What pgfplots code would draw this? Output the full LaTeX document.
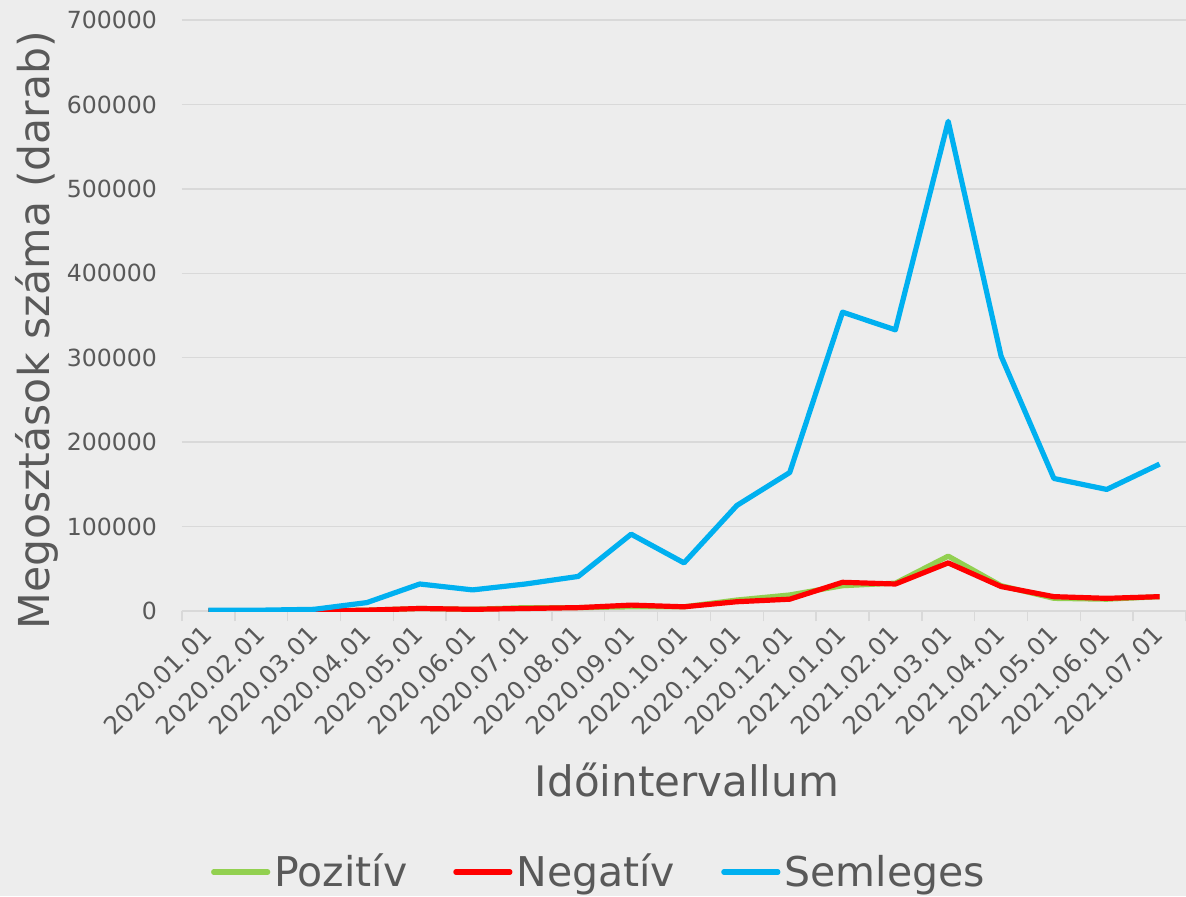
\documentclass[border=0pt]{standalone}
\usepackage{fontspec}
\setmainfont{DejaVu Sans}
\usepackage{pgfplots}
\pgfplotsset{compat=1.18}
\definecolor{bg}{HTML}{EDEDED}
\definecolor{tc}{HTML}{595959}
\definecolor{gridc}{HTML}{D9D9D9}
\definecolor{cpos}{HTML}{92D050}
\definecolor{cneg}{HTML}{FF0000}
\definecolor{csem}{HTML}{00B0F0}
\begin{document}
\begin{tikzpicture}
\fill[bg] (-91pt,-142.5pt) rectangle (502pt,305.5pt);
\begin{axis}[
  at={(0,0)}, anchor=south west, scale only axis,
  width=502pt, height=295.5pt,
  xmin=-0.5, xmax=18.5, ymin=0, ymax=700000,
  axis x line*=bottom, axis y line*=left,
  x axis line style={gridc, line width=0.75pt, -},
  y axis line style={draw=none},
  ytick={0,100000,...,700000},
  ymajorgrids, grid style={gridc, line width=0.75pt},
  scaled y ticks=false,
  yticklabel style={/pgf/number format/fixed, /pgf/number format/1000 sep={}, /pgf/number format/assume math mode=true, font=\fontsize{11.8}{14}\selectfont, text=tc, xshift=-9pt},
  major tick length=0pt,
  xtick={0,...,18},
  xticklabels={2020.01.01,2020.02.01,2020.03.01,2020.04.01,2020.05.01,2020.06.01,2020.07.01,2020.08.01,2020.09.01,2020.10.01,2020.11.01,2020.12.01,2021.01.01,2021.02.01,2021.03.01,2021.04.01,2021.05.01,2021.06.01,2021.07.01},
  xticklabel style={rotate=45, anchor=east, font=\fontsize{12.3}{15}\selectfont, text=tc, xshift=-3.6pt, yshift=-6.4pt},
  extra x ticks={-0.5,0.5,...,18.5},
  extra x tick labels={},
  extra x tick style={major tick length=5pt, tick align=outside, tick style={gridc, line width=0.75pt}},
  xlabel={Időintervallum},
  xlabel style={at={(axis description cs:0.503,0)}, anchor=center, yshift=-84.5pt, font=\fontsize{21}{25}\selectfont, text=tc},
  ylabel={Megosztások száma (darab)},
  ylabel style={at={(axis description cs:0,0.475)}, anchor=center, yshift=72.5pt, font=\fontsize{21.3}{25}\selectfont, text=tc},
  legend columns=3,
  legend style={at={(axis description cs:0.4163,0)}, anchor=center, yshift=-130.5pt, draw=none, fill=none, font=\fontsize{20.5}{24}\selectfont, text=tc, /tikz/every even column/.append style={column sep=21pt}, inner sep=0pt},
  legend image code/.code={\draw[#1, line cap=round] (0pt,0pt) -- (27pt,0pt);},
  every axis plot/.append style={line width=2.6pt, line join=round},
]
\addplot[cpos] coordinates {(0,0)(1,0)(2,0)(3,1000)(4,3000)(5,2000)(6,4000)(7,4000)(8,5000)(9,5000)(10,13000)(11,19000)(12,30000)(13,33000)(14,65000)(15,30000)(16,15000)(17,14000)(18,17000)};
\addlegendentry{Pozitív}
\addplot[cneg] coordinates {(0,0)(1,0)(2,0)(3,1000)(4,3000)(5,2000)(6,3000)(7,4000)(8,7000)(9,5000)(10,11000)(11,14000)(12,34000)(13,32000)(14,57000)(15,29000)(16,17000)(17,15000)(18,17000)};
\addlegendentry{Negatív}
\addplot[csem] coordinates {(0,1000)(1,1000)(2,2000)(3,10000)(4,32000)(5,25000)(6,32000)(7,41000)(8,91000)(9,57000)(10,125000)(11,164000)(12,354000)(13,333000)(14,580000)(15,302000)(16,157000)(17,144000)(18,174000)};
\addlegendentry{Semleges}
\end{axis}
\pgfresetboundingbox
\useasboundingbox (-91pt,-142.5pt) rectangle (502pt,305.5pt);
\end{tikzpicture}
\end{document}
